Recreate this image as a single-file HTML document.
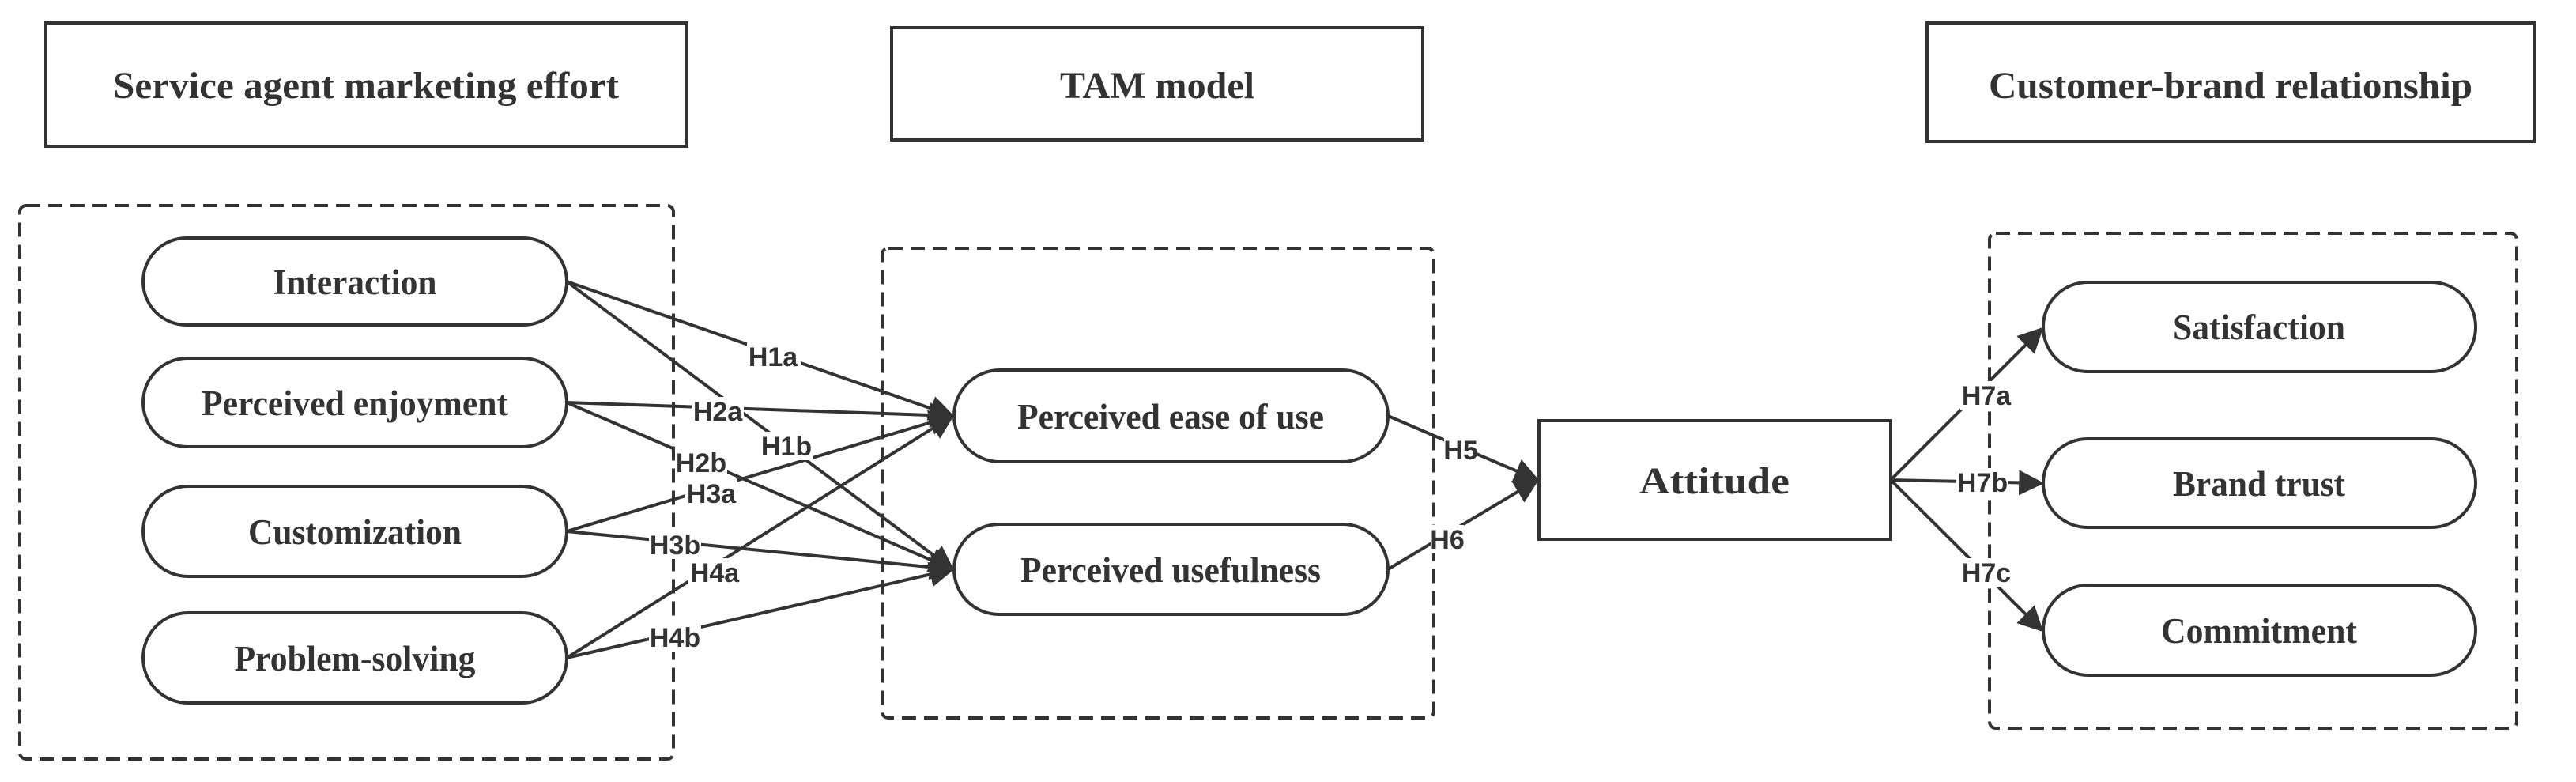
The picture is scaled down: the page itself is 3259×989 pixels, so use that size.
<!DOCTYPE html>
<html><head><meta charset="utf-8"><style>
html,body{margin:0;padding:0;background:#fff;}
svg{display:block;}
.n{font-family:"Liberation Serif",serif;font-weight:bold;fill:#333;}
.l{font-family:"Liberation Sans",sans-serif;font-weight:bold;font-size:34px;fill:#333;}
</style></head><body>
<svg width="3259" height="989" viewBox="0 0 3259 989" xmlns="http://www.w3.org/2000/svg">
<defs>
<marker id="b" viewBox="0 0 10 10" refX="9" refY="5" markerWidth="8" markerHeight="8" orient="auto" markerUnits="strokeWidth">
<path d="M0,0 L10,5 L0,10 z" fill="#333"/></marker>
</defs>
<g fill="none" stroke="#333" stroke-width="4">
<rect x="58" y="29" width="811" height="156"/>
<rect x="1128" y="35" width="672" height="142"/>
<rect x="2438" y="29" width="768" height="150"/>
<g stroke-dasharray="18 10">
<rect x="25" y="260" width="827" height="700" rx="8"/>
<rect x="1116" y="314" width="698" height="594" rx="8"/>
<rect x="2517" y="295" width="667" height="626" rx="8"/>
</g>
<rect x="181" y="301" width="536" height="110" rx="55"/>
<rect x="181" y="453" width="536" height="112" rx="56"/>
<rect x="181" y="615" width="536" height="114" rx="57"/>
<rect x="181" y="775" width="536" height="114" rx="57"/>
<rect x="1207" y="468" width="549" height="116" rx="58"/>
<rect x="1207" y="663" width="549" height="114" rx="57"/>
<rect x="1947" y="532" width="445" height="150"/>
<rect x="2585" y="357" width="547" height="113" rx="56"/>
<rect x="2585" y="555" width="547" height="112" rx="56"/>
<rect x="2585" y="740" width="547" height="114" rx="57"/>
</g>
<g stroke="#333" stroke-width="4" fill="none">
<line x1="717" y1="356" x2="1205" y2="526" marker-end="url(#b)"/>
<line x1="717" y1="356" x2="1205" y2="720" marker-end="url(#b)"/>
<line x1="717" y1="509" x2="1205" y2="526" marker-end="url(#b)"/>
<line x1="717" y1="509" x2="1205" y2="720" marker-end="url(#b)"/>
<line x1="717" y1="672" x2="1205" y2="526" marker-end="url(#b)"/>
<line x1="717" y1="672" x2="1205" y2="720" marker-end="url(#b)"/>
<line x1="717" y1="832" x2="1205" y2="526" marker-end="url(#b)"/>
<line x1="717" y1="832" x2="1205" y2="720" marker-end="url(#b)"/>
<line x1="1756" y1="526" x2="1945" y2="607" marker-end="url(#b)"/>
<line x1="1756" y1="720" x2="1945" y2="607" marker-end="url(#b)"/>
<line x1="2392" y1="607" x2="2583" y2="416" marker-end="url(#b)"/>
<line x1="2392" y1="607" x2="2583" y2="611" marker-end="url(#b)"/>
<line x1="2392" y1="607" x2="2583" y2="797" marker-end="url(#b)"/>
</g>
<g class="l" text-anchor="middle">
<g fill="#fff" stroke="none">
<rect x="945" y="433" width="68" height="36"/><rect x="875" y="502" width="66" height="36"/>
<rect x="962" y="546" width="66" height="36"/><rect x="854" y="567" width="66" height="36"/>
<rect x="867" y="606" width="66" height="36"/><rect x="821" y="671" width="66" height="36"/>
<rect x="871" y="706" width="66" height="36"/><rect x="821" y="788" width="66" height="36"/>
<rect x="1827" y="551" width="42" height="36"/><rect x="1810" y="664" width="42" height="36"/>
<rect x="2480" y="482" width="66" height="36"/><rect x="2475" y="592" width="66" height="36"/>
<rect x="2480" y="706" width="66" height="36"/>
</g>
<text x="978" y="463">H1a</text>
<text x="908" y="532">H2a</text>
<text x="995" y="576">H1b</text>
<text x="887" y="597">H2b</text>
<text x="900" y="636">H3a</text>
<text x="854" y="701">H3b</text>
<text x="904" y="736">H4a</text>
<text x="854" y="818">H4b</text>
<text x="1848" y="581">H5</text>
<text x="1831" y="694">H6</text>
<text x="2513" y="512">H7a</text>
<text x="2508" y="622">H7b</text>
<text x="2513" y="736">H7c</text>
</g>
<g class="n" text-anchor="middle">
<text x="463" y="124" font-size="48" textLength="640" lengthAdjust="spacingAndGlyphs">Service agent marketing effort</text>
<text x="1464" y="124" font-size="48" textLength="246" lengthAdjust="spacingAndGlyphs">TAM model</text>
<text x="2822" y="124" font-size="48" textLength="612" lengthAdjust="spacingAndGlyphs">Customer-brand relationship</text>
<text x="449" y="372" font-size="45" textLength="207" lengthAdjust="spacingAndGlyphs">Interaction</text>
<text x="449" y="525" font-size="45" textLength="388" lengthAdjust="spacingAndGlyphs">Perceived enjoyment</text>
<text x="449" y="688" font-size="45" textLength="270" lengthAdjust="spacingAndGlyphs">Customization</text>
<text x="449" y="848" font-size="45" textLength="305" lengthAdjust="spacingAndGlyphs">Problem-solving</text>
<text x="1481" y="542" font-size="45" textLength="388" lengthAdjust="spacingAndGlyphs">Perceived ease of use</text>
<text x="1481" y="736" font-size="45" textLength="380" lengthAdjust="spacingAndGlyphs">Perceived usefulness</text>
<text x="2169" y="624" font-size="48" textLength="190" lengthAdjust="spacingAndGlyphs">Attitude</text>
<text x="2858" y="429" font-size="45" textLength="218" lengthAdjust="spacingAndGlyphs">Satisfaction</text>
<text x="2858" y="627" font-size="45" textLength="218" lengthAdjust="spacingAndGlyphs">Brand trust</text>
<text x="2858" y="813" font-size="45" textLength="248" lengthAdjust="spacingAndGlyphs">Commitment</text>
</g>
</svg>
</body></html>
